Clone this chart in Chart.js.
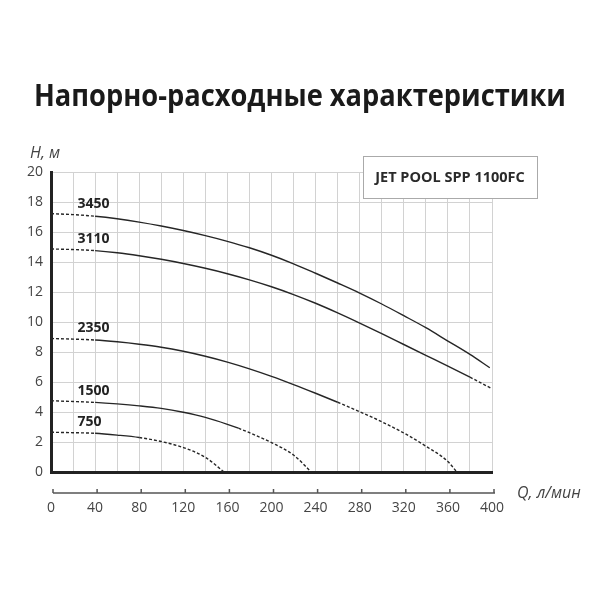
<!DOCTYPE html>
<html>
<head>
<meta charset="utf-8">
<script src="https://cdn.jsdelivr.net/npm/chart.js@4.4.1/dist/chart.umd.min.js"></script>
<style>
  html, body { margin: 0; padding: 0; background: #fff; }
  #wrap { width: 600px; height: 600px; }
</style>
</head>
<body>
<div id="wrap"><canvas id="pumpChart" width="600" height="600"></canvas></div>
<script>
// ======== Data ========
const speeds = ["3450", "3110", "2350", "1500", "750"];

const q3450 = [0, 20, 40, 60, 80, 100, 120, 140, 160, 180, 200, 220, 240, 260, 280, 300, 320, 340, 360, 380, 398];
const h3450 = [17.22, 17.16, 17.05, 16.88, 16.66, 16.4, 16.1, 15.76, 15.38, 14.95, 14.45, 13.88, 13.25, 12.6, 11.93, 11.2, 10.42, 9.62, 8.73, 7.84, 6.95];

const q3110 = [0, 20, 40, 60, 80, 100, 120, 140, 160, 180, 200, 220, 240, 260, 280, 300, 320, 340, 360, 380, 400];
const h3110 = [14.87, 14.83, 14.76, 14.62, 14.42, 14.18, 13.9, 13.58, 13.22, 12.81, 12.35, 11.83, 11.25, 10.61, 9.93, 9.22, 8.5, 7.78, 7.06, 6.32, 5.55];

const q2350 = [0, 20, 40, 60, 80, 100, 120, 140, 160, 180, 200, 220, 240, 260, 280, 300, 320, 340, 360, 368];
const h2350 = [8.9, 8.86, 8.8, 8.68, 8.52, 8.32, 8.05, 7.72, 7.33, 6.88, 6.38, 5.83, 5.25, 4.65, 4.02, 3.35, 2.6, 1.72, 0.7, 0];

const q1500 = [0, 20, 40, 60, 80, 100, 120, 140, 160, 170, 180, 200, 220, 236];
const h1500 = [4.75, 4.7, 4.64, 4.54, 4.41, 4.24, 3.98, 3.64, 3.18, 2.92, 2.62, 1.96, 1.13, 0];

const q750 = [0, 20, 40, 60, 80, 100, 120, 140, 157];
const h750 = [2.65, 2.62, 2.58, 2.46, 2.3, 2.03, 1.63, 0.98, 0];

// measured part of each curve: solid between 40 and this flow, dashed outside
const solidTo = [420, 380, 260, 170, 80];

const curveQ = [q3450, q3110, q2350, q1500, q750];
const curveH = [h3450, h3110, h2350, h1500, h750];

const xTicks = [0, 40, 80, 120, 160, 200, 240, 280, 320, 360, 400];
const yTicks = [0, 2, 4, 6, 8, 10, 12, 14, 16, 18, 20];

const chartTitle = "Напорно-расходные характеристики";
const modelName = "JET POOL SPP 1100FC";

// ======== Datasets ========
const datasets = speeds.map((name, i) => ({
    label: name,
    data: curveQ[i].map((q, j) => ({ x: q, y: curveH[i][j] })),
    borderColor: "#262626",
    borderWidth: 1.4,
    pointRadius: 0,
    fill: false,
    cubicInterpolationMode: "monotone",
    segment: {
        borderDash: ctx => (ctx.p0.parsed.x < 40 || ctx.p0.parsed.x >= solidTo[i]) ? [3, 2] : undefined
    }
}));

// ======== Extra drawing: title, curve labels, model box, axis names, lower axis ========
const decorations = {
    id: "decorations",
    afterDraw(chart) {
        const { ctx, chartArea, scales } = chart;
        const xs = scales.x, ys = scales.y;
        ctx.save();

        // heading, squeezed to 532px to look like a condensed bold face
        ctx.fillStyle = "#1a1a1a";
        ctx.font = "bold 31px 'Open Sans', sans-serif";
        ctx.textAlign = "center";
        ctx.textBaseline = "middle";
        ctx.fillText(chartTitle, chart.width / 2, 97, 532);

        // speed labels over each curve
        ctx.fillStyle = "#222";
        ctx.font = "bold 14px 'Open Sans', sans-serif";
        ctx.textAlign = "left";
        speeds.forEach((name, i) => {
            ctx.fillText(name, xs.getPixelForValue(24), ys.getPixelForValue(curveH[i][0]) - 10);
        });

        // model name box
        const bx = chartArea.right - 129, by = chartArea.top - 16, bw = 174, bh = 42;
        ctx.fillStyle = "#fff";
        ctx.fillRect(bx, by, bw, bh);
        ctx.strokeStyle = "#aaa";
        ctx.lineWidth = 1;
        ctx.strokeRect(bx + 0.5, by + 0.5, bw, bh);
        ctx.fillStyle = "#2a2a2a";
        ctx.font = "bold 14.5px 'Open Sans', sans-serif";
        ctx.textAlign = "center";
        ctx.fillText(modelName, bx + bw / 2, by + bh / 2 + 1);

        // axis names
        ctx.fillStyle = "#444";
        ctx.font = "italic 16px 'Open Sans', sans-serif";
        ctx.textAlign = "left";
        ctx.fillText("H, м", chartArea.left - 21, chartArea.top - 19);
        ctx.fillText("Q, л/мин", chartArea.right + 25, chartArea.bottom + 21);

        // detached flow axis line with ticks
        const ly = chartArea.bottom + 21;
        ctx.strokeStyle = "#555";
        ctx.lineWidth = 1.5;
        ctx.beginPath();
        ctx.moveTo(chartArea.left + 2, ly);
        ctx.lineTo(chartArea.right + 3, ly);
        xTicks.forEach(v => {
            const px = xs.getPixelForValue(v) + 2;
            ctx.moveTo(px, ly);
            ctx.lineTo(px, ly - 4);
        });
        ctx.stroke();
        ctx.restore();
    }
};

// ======== Chart ========
const ctx = document.getElementById("pumpChart").getContext("2d");
const pumpChart = new Chart(ctx, {
    type: "line",
    data: { datasets },
    options: {
        responsive: false,
        animation: false,
        layout: { padding: { left: 0, right: 0, top: 172, bottom: 0 } },
        plugins: {
            legend: { display: false },
            tooltip: { enabled: false },
            title: { display: false }
        },
        scales: {
            x: {
                type: "linear",
                min: 0,
                max: 400,
                afterFit: s => { s.height = 128; },
                afterBuildTicks: s => { s.ticks = Array.from({ length: 21 }, (_, k) => ({ value: k * 20 })); },
                ticks: {
                    autoSkip: false,
                    maxRotation: 0,
                    padding: 28,
                    color: "#444",
                    font: { family: "'Open Sans', sans-serif", size: 14 },
                    callback: v => xTicks.includes(v) ? String(v) : ""
                },
                grid: { color: "#d2d2d2", lineWidth: 1, drawTicks: false },
                border: { color: "#222", width: 3 }
            },
            y: {
                type: "linear",
                min: 0,
                max: 20,
                afterFit: s => { s.width = 51; },
                afterBuildTicks: s => { s.ticks = yTicks.map(v => ({ value: v })); },
                ticks: {
                    padding: 8,
                    color: "#444",
                    font: { family: "'Open Sans', sans-serif", size: 14 }
                },
                grid: { color: "#d2d2d2", lineWidth: 1, drawTicks: false },
                border: { color: "#222", width: 3 }
            },
            // empty right-hand axis that only reserves the margin beside the plot
            yRight: {
                type: "linear",
                position: "right",
                min: 0,
                max: 20,
                afterFit: s => { s.width = 108; },
                ticks: { display: false },
                grid: { display: false },
                border: { display: false }
            }
        }
    },
    plugins: [decorations]
});
</script>
</body>
</html>
